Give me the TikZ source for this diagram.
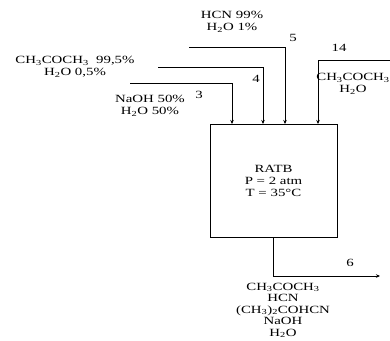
\documentclass[tikz,border=0pt]{standalone}
\usepackage{fontspec}
\setmainfont[FakeStretch=1.35]{Liberation Serif}
\usetikzlibrary{arrows.meta}
\begin{document}
\begin{tikzpicture}[x=1pt,y=-1pt, line width=0.8pt,
  >={Stealth[length=4pt,width=3.5pt]},
  lbl/.style={font=\fontsize{11}{12}\selectfont, align=center, inner sep=0pt},
  num/.style={font=\fontsize{11}{12}\selectfont, inner sep=0pt},
  reactor/.style={draw, minimum width=127pt, minimum height=113pt, inner sep=0pt, align=center, font=\fontsize{11}{12}\selectfont}]
\useasboundingbox (0,0) rectangle (390,340);
\clip (0,0) rectangle (390,340);
% reactor
\node[reactor] (r) at (273.5,180.5) {RATB\\P = 2 atm\\T = 35°C};
% feed start points and entry points
\coordinate (s3) at (130,83);  \coordinate (e3) at (232,124);
\coordinate (s4) at (158,67);  \coordinate (e4) at (263,124);
\coordinate (s5) at (189,47);  \coordinate (e5) at (285,124);
\coordinate (s14) at (392,60); \coordinate (e14) at (318,124);
\coordinate (o6) at (380,276);
\draw[->] (s3) -| (e3);
\draw[->] (s4) -| (e4);
\draw[->] (s5) -| (e5);
\draw[->] (s14) -| (e14);
\draw[->] (r.south) |- (o6);
% stream numbers
\node[num] (n3) at (199,95) {3};
\node[num] (n4) at (256,79) {4};
\node[num] (n5) at (293,38) {5};
\node[num] (n14) at (339,48) {14};
\node[num] (n6) at (350,263) {6};
% compositions
\node[lbl] (c5) at (232,22) {HCN 99\%\\H\textsubscript{2}O 1\%};
\node[lbl] (c4) at (75,67) {CH\textsubscript{3}COCH\textsubscript{3}\ \ 99,5\%\\H\textsubscript{2}O 0,5\%};
\node[lbl] (c3) at (150,106) {NaOH 50\%\\H\textsubscript{2}O 50\%};
\node[lbl] (c14) at (353,84) {CH\textsubscript{3}COCH\textsubscript{3}\\H\textsubscript{2}O};
\node[lbl, font=\fontsize{11}{11.5}\selectfont] (c6) at (283,310.5) {CH\textsubscript{3}COCH\textsubscript{3}\\HCN\\(CH\textsubscript{3})\textsubscript{2}COHCN\\NaOH\\H\textsubscript{2}O};
\end{tikzpicture}
\end{document}
